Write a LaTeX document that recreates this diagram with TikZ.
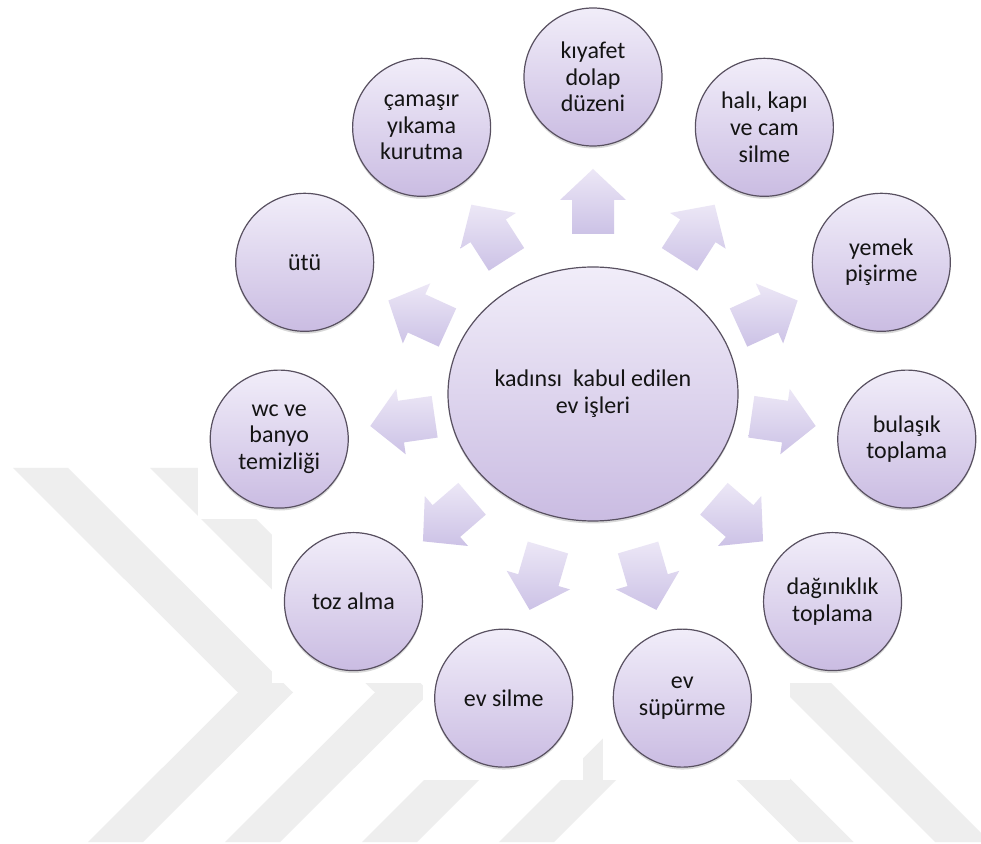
\documentclass[tikz,border=0pt]{standalone}
\usepackage{fontspec}
\setmainfont{Carlito}
\usetikzlibrary{calc,shadows,shapes.geometric}
\definecolor{wm}{RGB}{238,238,238}
\definecolor{ctop}{RGB}{241,237,249}
\definecolor{cbot}{RGB}{202,188,226}
\definecolor{atop}{RGB}{236,231,246}
\definecolor{abot}{RGB}{204,194,230}
\definecolor{cline}{RGB}{88,80,96}
\definecolor{txt}{RGB}{20,20,20}
\newcommand\radarrow[1]{%
  \shade[top color=atop,bottom color=abot]
    ($(hub.center)+(#1:160)+(#1+90:21)$) --
    ($(hub.center)+(#1:194)+(#1+90:21)$) --
    ($(hub.center)+(#1:194)+(#1+90:33)$) --
    ($(hub.center)+(#1:225)$) --
    ($(hub.center)+(#1:194)+(#1-90:33)$) --
    ($(hub.center)+(#1:194)+(#1-90:21)$) --
    ($(hub.center)+(#1:160)+(#1-90:21)$) -- cycle;}
\begin{document}
\begin{tikzpicture}[x=0.5pt,y=-0.5pt,
  bubble/.style={circle, minimum size=69pt, inner sep=0pt, draw=cline, line width=0.6pt,
    top color=ctop, bottom color=cbot, align=center, text=txt,
    font=\fontsize{12}{13.3}\selectfont,
    drop shadow={shadow xshift=0pt, shadow yshift=-1.2pt, opacity=0.3}},
  hubstyle/.style={ellipse, minimum width=145pt, minimum height=127pt, inner sep=0pt,
    draw=cline, line width=0.6pt, top color=ctop, bottom color=cbot, align=center, text=txt,
    font=\fontsize{12}{13.6}\selectfont,
    drop shadow={shadow xshift=0pt, shadow yshift=-1.2pt, opacity=0.3}}]
\useasboundingbox (0,0) rectangle (981,844);
\fill[white] (0,0) rectangle (981,844);
% watermark
\foreach \d in {0,137,274,411}{
  \fill[wm] ({13+\d},468) -- ({68+\d},468) -- ({293+\d},692.5) -- ({143+\d},842)
    -- ({88+\d},842) -- ({238+\d},692.5) -- cycle;}
\fill[wm] (649,692.5) -- (704,692.5) -- (853.5,842) -- (798.5,842) -- cycle;
\fill[wm] (561,468) -- (616,468) -- (990,842) -- (935,842) -- cycle;
% white tiles of the diagram image
\fill[white] (198,460) rectangle (981,519);
\fill[white] (272,519) rectangle (981,683);
\fill[white] (423,683) rectangle (583,780);
\fill[white] (603,622) rectangle (790,780);
% hub
\node[hubstyle] (hub) at (593,394) {kadınsı\ \ kabul edilen\\ev işleri};
% arrows
\foreach \k in {0,...,10}{
  \pgfmathsetmacro\ang{-90+360/11*\k}
  \radarrow{\ang}}
% outer bubbles
\node[bubble] (n0) at ($(hub.center)+(-90:317)$) {kıyafet\\dolap\\düzeni};
\node[bubble] (n1) at ($(hub.center)+(-57.2727:317)$) {halı, kapı\\ve cam\\silme};
\node[bubble] (n2) at ($(hub.center)+(-24.5455:317)$) {yemek\\pişirme};
\node[bubble] (n3) at ($(hub.center)+(8.1818:317)$) {bulaşık\\toplama};
\node[bubble] (n4) at ($(hub.center)+(40.9091:317)$) {dağınıklık\\toplama};
\node[bubble] (n5) at ($(hub.center)+(73.6364:317)$) {ev\\süpürme};
\node[bubble] (n6) at ($(hub.center)+(106.3636:317)$) {ev silme};
\node[bubble] (n7) at ($(hub.center)+(139.0909:317)$) {toz alma};
\node[bubble] (n8) at ($(hub.center)+(171.8182:317)$) {wc ve\\banyo\\temizliği};
\node[bubble] (n9) at ($(hub.center)+(204.5455:317)$) {ütü};
\node[bubble] (n10) at ($(hub.center)+(237.2727:317)$) {çamaşır\\yıkama\\kurutma};
\end{tikzpicture}
\end{document}
